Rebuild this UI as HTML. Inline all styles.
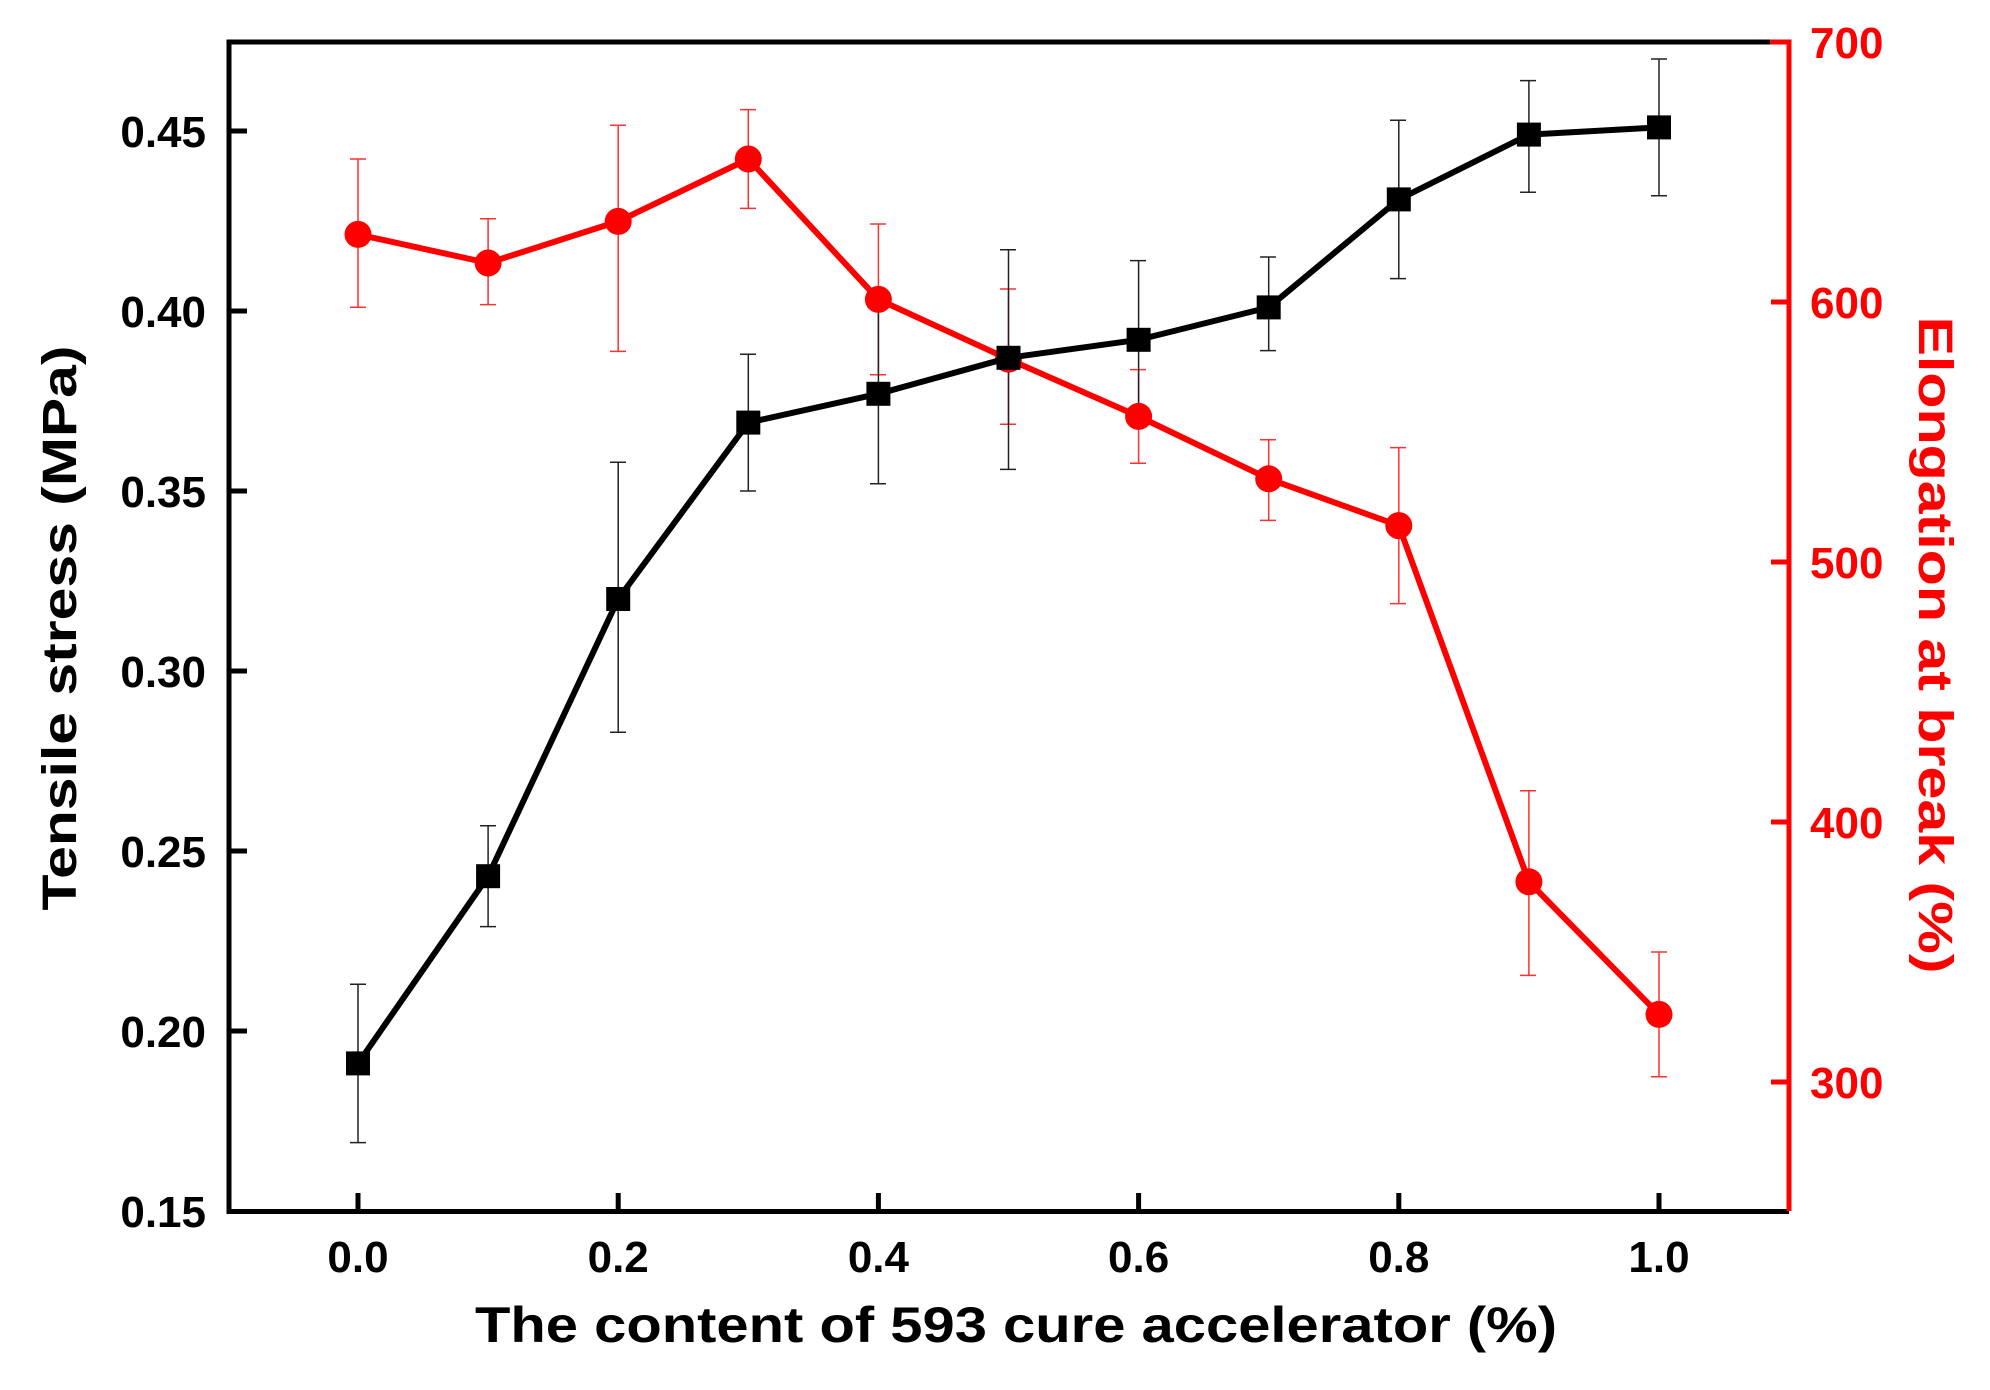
<!DOCTYPE html>
<html><head><meta charset="utf-8"><style>html,body{margin:0;padding:0;background:#fff}svg{display:block}</style></head>
<body>
<svg width="1990" height="1390" viewBox="0 0 1990 1390" xmlns="http://www.w3.org/2000/svg" font-family="Liberation Sans, Arial, sans-serif" font-weight="bold">
<rect width="1990" height="1390" fill="#fff"/>
<g stroke="#ff3030" stroke-width="1.5" fill="none">
<path d="M358 159V307.2M350 159H366M350 307.2H366"/>
<path d="M488.1 218.8V304.6M480 218.8H496M480 304.6H496"/>
<path d="M618.2 125.2V351.4M610 125.2H626M610 351.4H626"/>
<path d="M748.3 109.6V208.4M740 109.6H756M740 208.4H756"/>
<path d="M878.4 224V374.8M870 224H886M870 374.8H886"/>
<path d="M1008.5 289V424.2M1000 289H1016M1000 424.2H1016"/>
<path d="M1138.6 369.6V463.2M1130 369.6H1146M1130 463.2H1146"/>
<path d="M1268.7 439.8V520.4M1260 439.8H1276M1260 520.4H1276"/>
<path d="M1398.8 447.6V603.6M1390 447.6H1406M1390 603.6H1406"/>
<path d="M1528.9 790.8V975.4M1520 790.8H1536M1520 975.4H1536"/>
<path d="M1659 952V1076.8M1651 952H1667M1651 1076.8H1667"/>
</g>
<g stroke="#222" stroke-width="1.5" fill="none">
<path d="M358 984.2V1142.6M350 984.2H366M350 1142.6H366"/>
<path d="M488.1 825.8V926.6M480 825.8H496M480 926.6H496"/>
<path d="M618.2 462.2V732.2M610 462.2H626M610 732.2H626"/>
<path d="M748.3 354.2V491M740 354.2H756M740 491H756"/>
<path d="M878.4 307.4V483.8M870 307.4H886M870 483.8H886"/>
<path d="M1008.5 249.8V469.4M1000 249.8H1016M1000 469.4H1016"/>
<path d="M1138.6 260.6V419M1130 260.6H1146M1130 419H1146"/>
<path d="M1268.7 257V350.6M1260 257H1276M1260 350.6H1276"/>
<path d="M1398.8 120.2V278.6M1390 120.2H1406M1390 278.6H1406"/>
<path d="M1528.9 80.6V192.2M1520 80.6H1536M1520 192.2H1536"/>
<path d="M1659 59V195.8M1651 59H1667M1651 195.8H1667"/>
</g>
<polyline fill="none" stroke="#ff0000" stroke-width="6" stroke-linejoin="round" points="358,234.4 488.1,263 618.2,221.4 748.3,159 878.4,299.4 1008.5,359.2 1138.6,416.4 1268.7,478.8 1398.8,525.6 1528.9,881.8 1659,1014.4"/>
<g fill="#ff0000">
<circle cx="358" cy="234.4" r="13.5"/><circle cx="488.1" cy="263" r="13.5"/><circle cx="618.2" cy="221.4" r="13.5"/><circle cx="748.3" cy="159" r="13.5"/><circle cx="878.4" cy="299.4" r="13.5"/><circle cx="1008.5" cy="359.2" r="13.5"/><circle cx="1138.6" cy="416.4" r="13.5"/><circle cx="1268.7" cy="478.8" r="13.5"/><circle cx="1398.8" cy="525.6" r="13.5"/><circle cx="1528.9" cy="881.8" r="13.5"/><circle cx="1659" cy="1014.4" r="13.5"/>
</g>
<polyline fill="none" stroke="#000" stroke-width="6" stroke-linejoin="round" points="358,1063.4 488.1,876.2 618.2,599 748.3,422.6 878.4,393.8 1008.5,357.8 1138.6,339.8 1268.7,307.4 1398.8,199.4 1528.9,134.6 1659,127.4"/>
<g fill="#000">
<rect x="346" y="1051.4" width="24" height="24"/><rect x="476.1" y="864.2" width="24" height="24"/><rect x="606.2" y="587" width="24" height="24"/><rect x="736.3" y="410.6" width="24" height="24"/><rect x="866.4" y="381.8" width="24" height="24"/><rect x="996.5" y="345.8" width="24" height="24"/><rect x="1126.6" y="327.8" width="24" height="24"/><rect x="1256.7" y="295.4" width="24" height="24"/><rect x="1386.8" y="187.4" width="24" height="24"/><rect x="1516.9" y="122.6" width="24" height="24"/><rect x="1647" y="115.4" width="24" height="24"/>
</g>
<path d="M229 40V1211.5H1789" stroke="#000" stroke-width="5" fill="none"/>
<path d="M226.5 42H1771" stroke="#000" stroke-width="5"/>
<path d="M1770 42H1789V1211" stroke="#ff0000" stroke-width="5" fill="none"/>
<g stroke="#000" stroke-width="5">
<path d="M229 131H247M229 311H247M229 491H247M229 671H247M229 851H247M229 1031H247"/>
<path d="M358 1211V1193M618.2 1211V1193M878.4 1211V1193M1138.6 1211V1193M1398.8 1211V1193M1659 1211V1193"/>
</g>
<g stroke="#ff0000" stroke-width="5">
<path d="M1789 302H1771M1789 562H1771M1789 822H1771M1789 1082H1771"/>
</g>
<g font-size="44" text-anchor="end" fill="#000">
<text x="206" y="147">0.45</text><text x="206" y="327">0.40</text><text x="206" y="507">0.35</text><text x="206" y="687">0.30</text><text x="206" y="867">0.25</text><text x="206" y="1047">0.20</text><text x="206" y="1227">0.15</text>
</g>
<g font-size="44" text-anchor="middle" fill="#000">
<text x="358" y="1272">0.0</text><text x="618.2" y="1272">0.2</text><text x="878.4" y="1272">0.4</text><text x="1138.6" y="1272">0.6</text><text x="1398.8" y="1272">0.8</text><text x="1659" y="1272">1.0</text>
</g>
<g font-size="44" fill="#ff0000">
<text x="1810" y="58">700</text><text x="1810" y="318">600</text><text x="1810" y="578">500</text><text x="1810" y="838">400</text><text x="1810" y="1098">300</text>
</g>
<text x="1016" y="1342" font-size="50" text-anchor="middle" textLength="1082" lengthAdjust="spacingAndGlyphs">The content of 593 cure accelerator (%)</text>
<text transform="translate(76,628) rotate(-90)" font-size="48" text-anchor="middle" textLength="565" lengthAdjust="spacingAndGlyphs">Tensile stress (MPa)</text>
<text transform="translate(1919,645) rotate(90)" font-size="48" text-anchor="middle" fill="#ff0000" textLength="657" lengthAdjust="spacingAndGlyphs">Elongation at break (%)</text>
</svg>
</body></html>
